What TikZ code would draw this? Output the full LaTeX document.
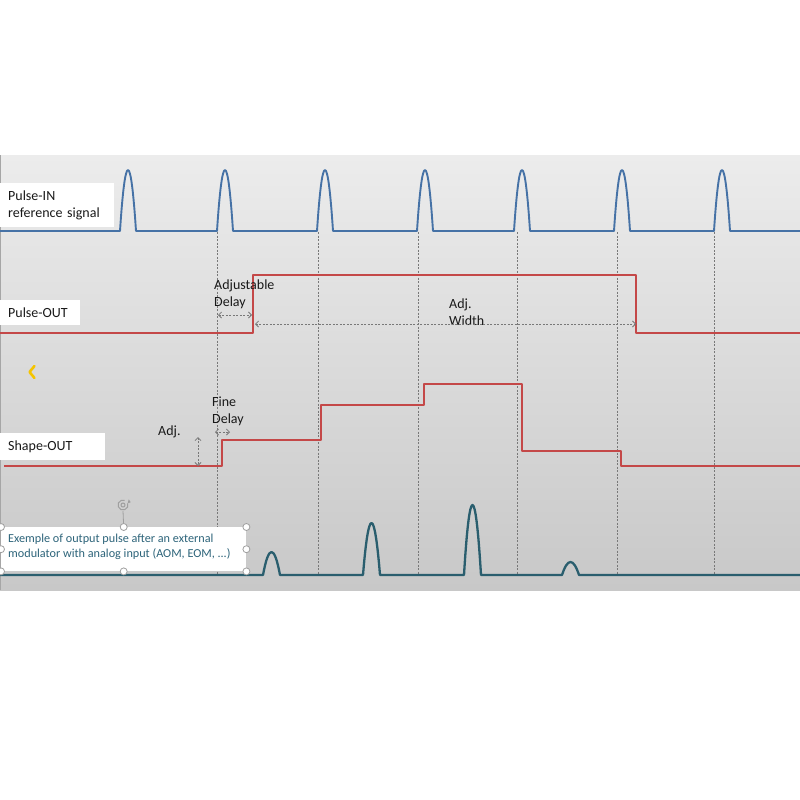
\documentclass[tikz,border=0pt]{standalone}
\usepackage{fontspec}
\setmainfont{Carlito}
\usetikzlibrary{arrows.meta}
\definecolor{pinblue}{RGB}{70,114,166}
\definecolor{poutred}{RGB}{196,72,72}
\definecolor{anateal}{RGB}{42,94,110}
\definecolor{tealtext}{RGB}{45,100,122}
\definecolor{bgtop}{RGB}{236,236,236}
\definecolor{bgbot}{RGB}{200,200,200}
\definecolor{chev}{RGB}{245,196,0}
\definecolor{guidegray}{RGB}{120,120,120}
\definecolor{txtblack}{RGB}{25,25,25}
\begin{document}
\begin{tikzpicture}[x=1pt,y=-1pt,
  sig/.style={line width=1.9pt, line join=round},
  pin/.style={sig, draw=pinblue},
  pout/.style={sig, draw=poutred},
  ana/.style={line width=2.3pt, draw=anateal, line join=round},
  guide/.style={draw=guidegray, line width=0.8pt, dash pattern=on 2pt off 1.5pt},
  meas/.style={guide, {Straight Barb[length=3pt,width=6pt]}-{Straight Barb[length=3pt,width=6pt]}},
  lblbox/.style={fill=white, anchor=north west, inner xsep=8pt, inner ysep=0pt, align=left, text=txtblack, font=\fontsize{14}{17}\selectfont},
  txt/.style={inner sep=0pt, anchor=west, align=left, text=txtblack, font=\fontsize{14}{17}\selectfont},
  handle/.style={circle, draw=gray!75, fill=white, line width=0.8pt, minimum size=7pt, inner sep=0pt}
]
\useasboundingbox (0,0) rectangle (800,800);
\fill[white] (0,0) rectangle (800,800);
% background panel
\shade[top color=bgtop, bottom color=bgbot] (0,155) rectangle (800,590);
\draw[gray!70, line width=1.2pt] (0.6,155) -- (0.6,590);

% guide lines
\foreach \gx in {217,318,418,517,617,714} {
  \draw[guide] (\gx,232) -- (\gx,574);
}

% Pulse-IN reference signal
\draw[pin] (0,231) foreach \x in {120,217,317,417,514,614,714} {
  -- (\x,231) .. controls (\x+5.33,149.7) and (\x+10.67,149.7) .. (\x+16,231) } -- (800,231);

% Pulse-OUT
\draw[pout] (0,333) -- (253,333) -- (253,275) -- (636,275) -- (636,333) -- (800,333);

% Shape-OUT
\draw[pout] (4,466) -- (222,466) -- (222,440) -- (321,440) -- (321,405) -- (424,405)
  -- (424,384) -- (522,384) -- (522,451) -- (621,451) -- (621,466) -- (800,466);

% analog output
\draw[ana] (0,575) foreach \x/\h in {263/23,363/52,464/70,562/13} {
  -- (\x,575) .. controls (\x+5.67,575-1.333*\h) and (\x+11.33,575-1.333*\h) .. (\x+17,575) } -- (800,575);

% label boxes
\node[lblbox, minimum width=114pt, minimum height=44pt, text width=98pt] (inlbl) at (0,183) {Pulse-IN\\reference signal};
\node[lblbox, minimum width=79pt, minimum height=25pt, text width=64pt] (outlbl) at (0,300) {Pulse-OUT};
\node[lblbox, minimum width=105pt, minimum height=27pt, text width=89pt] (shapelbl) at (0,433) {Shape-OUT};

% measurement annotations
\node[txt] (adjdelay) at (214,294.5) {Adjustable\\Delay};
\coordinate (adA) at (218,315);
\coordinate (adB) at (252,315);
\draw[meas] (adA) -- (adB);

\node[txt] (adjwidth) at (449,312) {Adj.\\Width};
\coordinate (awA) at (255,324);
\coordinate (awB) at (636,324);
\draw[meas] (awA) -- (awB);

\node[txt] (finedelay) at (212,411) {Fine\\Delay};
\coordinate (fdA) at (215,432);
\coordinate (fdB) at (230,432);
\draw[meas] (fdA) -- (fdB);

\node[txt] (adjamp) at (158,432) {Adj.};
\coordinate (aaA) at (198,437);
\coordinate (aaB) at (198,466);
\draw[meas] (aaA) -- (aaB);

% chevron
\draw[chev, line width=2.6pt, line cap=round, line join=round] (34.5,366) -- (29.5,372) -- (34.5,378);

% selected text box
\node[fill=white, anchor=north west, minimum width=245pt, minimum height=44pt, inner sep=0pt] (tb) at (1,527) {};
\node[inner sep=0pt, anchor=west, align=left, text=tealtext, font=\fontsize{12.2}{15}\selectfont] (tbtext) at (8,546.5)
  {Exemple of output pulse after an external\\modulator with analog input (AOM, EOM, ...)};
\coordinate (rot) at (123,505);
\draw[gray!75, line width=0.8pt] (tb.north) -- ([yshift=-6pt]rot);
\draw[gray!75, line width=1pt] ([shift={(20:5pt)}]rot) arc[start angle=20, end angle=-290, radius=5pt];
\draw[gray!75, line width=1pt] (rot) circle[radius=2pt];
\fill[gray!75] ([shift={(20:5pt)}]rot) -- ++(3pt,1pt) -- ++(-2pt,3pt) -- cycle;
\foreach \a in {north west,north,north east,west,east,south west,south,south east} {
  \node[handle] at (tb.\a) {};
}
\end{tikzpicture}
\end{document}
